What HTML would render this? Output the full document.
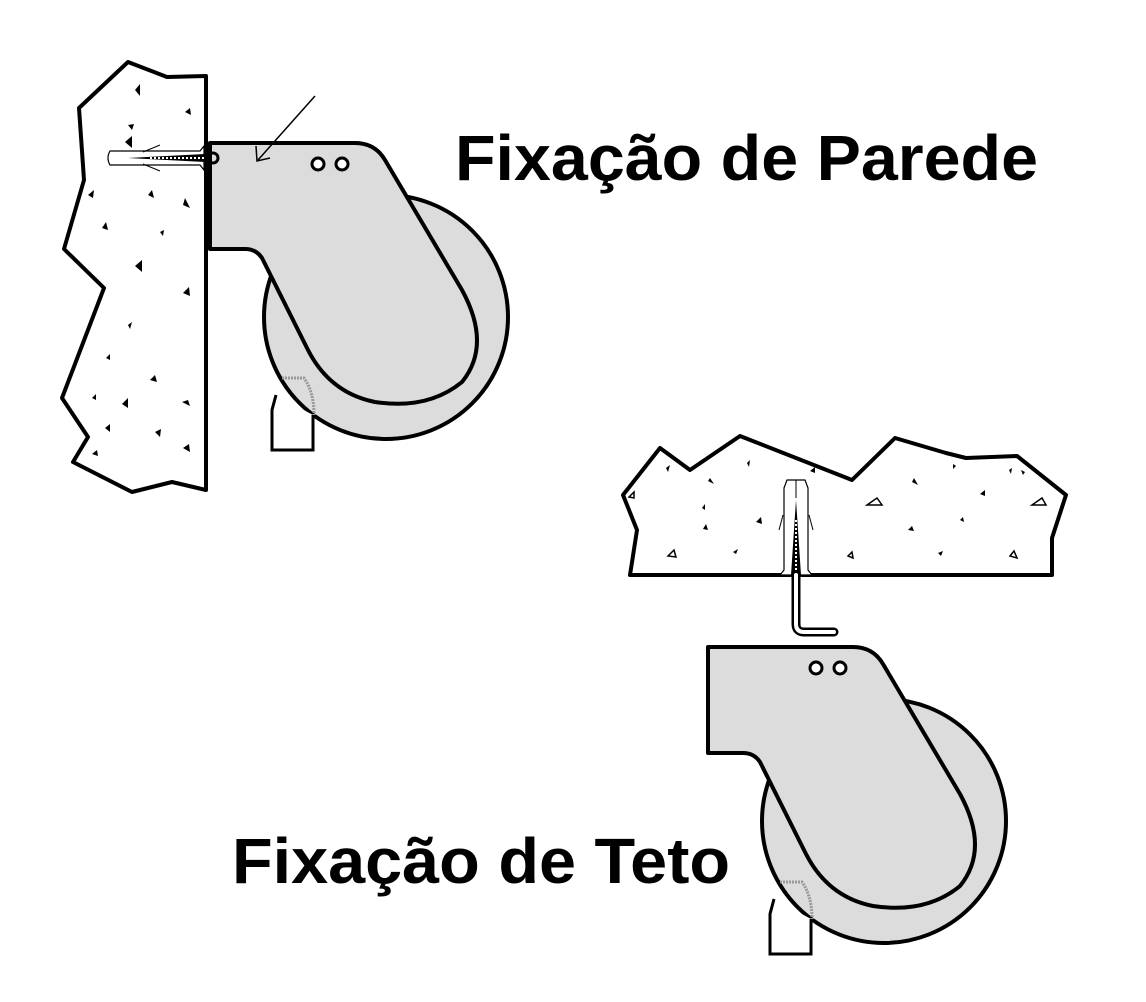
<!DOCTYPE html>
<html><head><meta charset="utf-8"><style>
html,body{margin:0;padding:0;background:#fff;}
svg{display:block}
text{font-family:"Liberation Sans",sans-serif;font-weight:bold;font-size:64px;fill:#000}
</style></head><body>
<svg width="1146" height="1002" viewBox="0 0 1146 1002" xmlns="http://www.w3.org/2000/svg">
<defs>
<g id="caster">
  <circle cx="386" cy="317" r="122" fill="#dcdcdc" stroke="#000" stroke-width="4"/>
  <path d="M276,395 L272,410 L272,450 L313,450 L313,415" fill="#fff" stroke="#000" stroke-width="3"/>
  <path d="M282,378 L304,378 Q314,392 314,415" fill="none" stroke="#999" stroke-width="3" stroke-dasharray="2,1"/>
  <path d="M210,143 L355,143 Q375,143 385,160 L462,290 Q492,345 462,382 Q428,410 375,402 Q330,393 308,350 L262,258 Q256,249 245,249 L210,249 Z" fill="#dcdcdc" stroke="#000" stroke-width="4" stroke-linejoin="round"/>
  <circle cx="318" cy="164" r="6" fill="#fff" stroke="#000" stroke-width="3"/>
  <circle cx="342" cy="164" r="6" fill="#fff" stroke="#000" stroke-width="3"/>
</g>
</defs>

<polygon points="128,62 167,77 206,76 206,490 172,482 132,492 73,462 88,437 62,398 104,288 64,249 84,180 79,108" fill="#fff" stroke="#000" stroke-width="4" stroke-linejoin="round"/>
<g fill="#000">
<polygon points="135,90 140,84 140,96"/><polygon points="185,112 190,108 191,115"/>
<polygon points="125,142 132,136 132,148"/><polygon points="128,125 134,124 132,130"/>
<polygon points="88,195 94,190 93,198"/><polygon points="148,195 152,190 154,198"/>
<polygon points="183,205 185,198 190,208"/><polygon points="102,228 106,222 108,230"/>
<polygon points="160,232 164,230 163,236"/><polygon points="135,266 142,260 142,272"/>
<polygon points="183,293 189,287 190,296"/><polygon points="128,325 132,322 130,329"/>
<polygon points="106,358 110,354 110,360"/><polygon points="150,380 155,375 157,382"/>
<polygon points="92,398 96,394 96,400"/><polygon points="182,402 188,400 190,406"/>
<polygon points="105,428 110,424 110,432"/><polygon points="155,432 161,429 160,437"/>
<polygon points="122,404 128,398 128,408"/><polygon points="183,448 189,444 190,452"/>
<polygon points="92,454 97,450 98,456"/>
</g>
<path d="M110,151 L200,151 L204,146 L204,170 L200,165 L110,165 Q106,158 110,151Z" fill="#fff" stroke="#000" stroke-width="1.2"/>
<path d="M128,158 L205,154 L205,162 Z" fill="#000"/>
<line x1="150" y1="158" x2="205" y2="158" stroke="#fff" stroke-width="2" stroke-dasharray="2,2"/>
<line x1="143" y1="152" x2="160" y2="145" stroke="#000" stroke-width="1"/>
<line x1="143" y1="164" x2="160" y2="171" stroke="#000" stroke-width="1"/>

<use href="#caster"/>
<circle cx="213" cy="158" r="5" fill="none" stroke="#000" stroke-width="3"/>
<line x1="315" y1="96" x2="258" y2="160" stroke="#000" stroke-width="1.5"/>
<path d="M256,146 L257,161 L270,158" fill="none" stroke="#000" stroke-width="1.5"/>

<polygon points="630,575 1052,575 1052,538 1066,495 1017,456 966,458 946,453 895,438 852,480 740,436 690,470 660,448 623,495 637,530" fill="#fff" stroke="#000" stroke-width="4" stroke-linejoin="round"/>
<g fill="none" stroke="#000" stroke-width="1.5">
<polygon points="867,505 877,498 882,505"/><polygon points="1032,505 1042,498 1046,505"/>
<polygon points="668,556 674,550 676,557"/><polygon points="848,556 852,552 853,558"/>
<polygon points="1010,556 1014,551 1017,558"/><polygon points="629,497 634,492 634,498"/>
</g>
<g fill="#000">
<polygon points="666,468 670,465 668,472"/><polygon points="747,463 750,460 749,467"/>
<polygon points="708,481 710,478 714,484"/><polygon points="810,471 815,467 815,473"/>
<polygon points="702,508 705,504 705,510"/><polygon points="703,529 706,524 708,530"/>
<polygon points="756,522 761,517 762,524"/><polygon points="733,552 738,549 736,554"/>
<polygon points="912,482 914,478 918,485"/><polygon points="953,464 956,466 953,469"/>
<polygon points="908,530 912,526 914,531"/><polygon points="938,553 943,551 941,556"/>
<polygon points="960,520 963,517 964,522"/><polygon points="980,494 985,490 985,496"/>
<polygon points="1009,470 1012,468 1011,474"/><polygon points="1021,470 1025,472 1023,475"/>
</g>
<path d="M787,480 L805,480 L808,488 L808,570 L812,575 L780,575 L784,570 L784,488 Z" fill="#fff" stroke="#000" stroke-width="1.2"/>
<line x1="796" y1="480" x2="796" y2="498" stroke="#000" stroke-width="1"/>
<path d="M796,500 L791,575 L801,575 Z" fill="#000"/>
<line x1="796" y1="520" x2="796" y2="575" stroke="#fff" stroke-width="2" stroke-dasharray="2,2"/>
<line x1="783" y1="515" x2="779" y2="530" stroke="#000" stroke-width="1"/>
<line x1="809" y1="515" x2="813" y2="530" stroke="#000" stroke-width="1"/>
<path d="M796,575 L796,624 Q796,632 804,632 L834,632" fill="none" stroke="#000" stroke-width="9" stroke-linecap="round"/>
<path d="M796,575 L796,624 Q796,632 804,632 L834,632" fill="none" stroke="#fff" stroke-width="4" stroke-linecap="round"/>

<use href="#caster" transform="translate(498,504)"/>

<text x="455" y="180" textLength="583" lengthAdjust="spacingAndGlyphs">Fixação de Parede</text>
<text x="232" y="883" textLength="498" lengthAdjust="spacingAndGlyphs">Fixação de Teto</text>
</svg>
</body></html>
